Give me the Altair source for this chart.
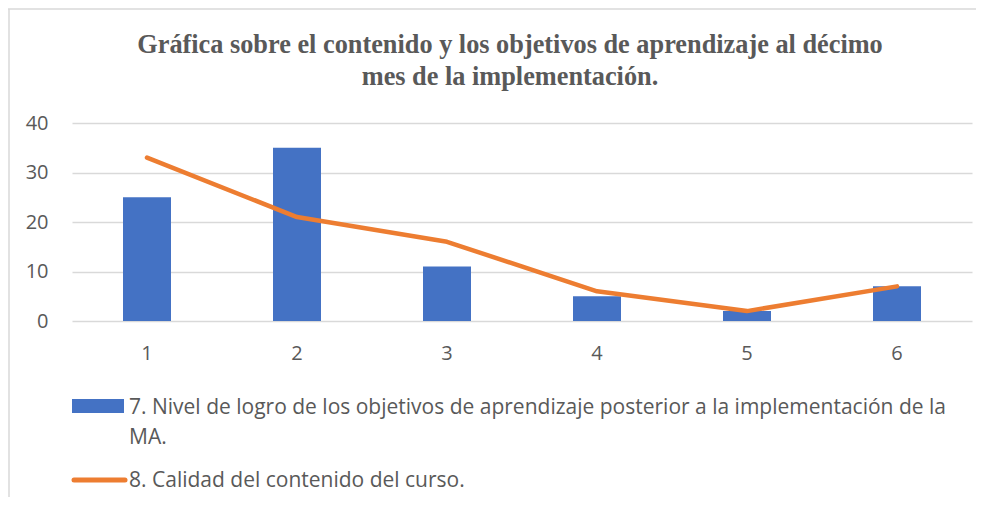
import altair as alt
import pandas as pd

# ---- data ----
categories = ["1", "2", "3", "4", "5", "6"]
nivel_logro = [25, 35, 11, 5, 2, 7]
calidad = [33, 21, 16, 6, 2, 7]
y_ticks = [0, 10, 20, 30, 40]

title_lines = [
    "Gráfica sobre el contenido y los objetivos de aprendizaje al décimo",
    "mes de la implementación.",
]
serie_barras = [
    "7. Nivel de logro de los objetivos de aprendizaje posterior a la implementación de la",
    "MA.",
]
serie_linea = "8. Calidad del contenido del curso."

df = pd.DataFrame({"cat": categories, "logro": nivel_logro, "calidad": calidad})
one = pd.DataFrame({"k": [0]})

GRAY_TXT = "#595959"
GRID = "#D9D9D9"
BLUE = "#4472C4"
ORANGE = "#ED7D31"
SANS = "Open Sans"

x_enc = alt.X(
    "cat:N",
    sort=categories,
    scale=alt.Scale(paddingInner=0, paddingOuter=0),
    axis=alt.Axis(
        title=None, labelAngle=0, domain=False, ticks=False, tickSize=0,
        grid=False, labelPadding=32, labelBaseline="middle",
        labelFont=SANS, labelFontSize=20, labelColor=GRAY_TXT,
    ),
)
y_scale = alt.Scale(domain=[0, 40], nice=False, zero=True)

bars = alt.Chart(df).mark_bar(size=48, color=BLUE).encode(
    x=x_enc,
    y=alt.Y(
        "logro:Q",
        scale=y_scale,
        axis=alt.Axis(
            title=None, values=y_ticks, grid=True, gridColor=GRID, gridWidth=1.5,
            domain=False, ticks=False, tickSize=0, labelPadding=24,
            labelFont=SANS, labelFontSize=20, labelColor=GRAY_TXT,
        ),
    ),
)

line = alt.Chart(df).mark_line(
    color=ORANGE, strokeWidth=4.5, strokeCap="round", strokeJoin="round"
).encode(
    x=alt.X("cat:N", sort=categories),
    y=alt.Y("calidad:Q", scale=y_scale),
)

# chart frame (top and left border)
frame_top = alt.Chart(one).mark_rule(color=GRID, strokeWidth=1.5).encode(
    x=alt.value(-64), x2=alt.value(910), y=alt.value(-114)
)
frame_left = alt.Chart(one).mark_rule(color=GRID, strokeWidth=1.5).encode(
    x=alt.value(-63), y=alt.value(-114), y2=alt.value(390)
)

title = alt.Chart(one).mark_text(
    font="Liberation Serif", fontSize=26.3, fontWeight="bold", color=GRAY_TXT,
    align="center", baseline="alphabetic", lineHeight=32,
).encode(x=alt.value(438), y=alt.value(-70), text=alt.value(title_lines))

# legend
leg_rect = alt.Chart(one).mark_rect(color=BLUE).encode(
    x=alt.value(0), x2=alt.value(52), y=alt.value(276), y2=alt.value(290)
)
leg_rect_txt = alt.Chart(one).mark_text(
    font=SANS, fontSize=21, color=GRAY_TXT, align="left",
    baseline="alphabetic", lineHeight=30,
).encode(x=alt.value(57), y=alt.value(291), text=alt.value(serie_barras))
leg_line = alt.Chart(one).mark_rule(
    color=ORANGE, strokeWidth=5, strokeCap="round"
).encode(x=alt.value(2), x2=alt.value(53), y=alt.value(357))
leg_line_txt = alt.Chart(one).mark_text(
    font=SANS, fontSize=21, color=GRAY_TXT, align="left", baseline="alphabetic",
).encode(x=alt.value(57), y=alt.value(364), text=alt.value(serie_linea))

chart = alt.layer(
    frame_top, frame_left, bars, line, title,
    leg_rect, leg_rect_txt, leg_line, leg_line_txt,
).properties(
    width=900, height=198,
    autosize=alt.AutoSizeParams(type="none"),
    padding={"left": 64, "top": 115, "right": 4, "bottom": 176},
).configure_view(stroke=None)

chart.save("out.html", embed_options={"renderer": "svg", "actions": False})
